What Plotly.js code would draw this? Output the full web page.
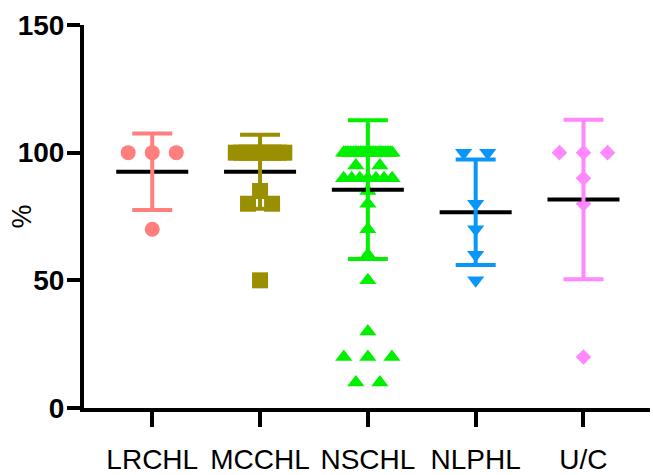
<!DOCTYPE html>
<html>
<head>
<meta charset="utf-8">
<script src="https://cdn.plot.ly/plotly-3.0.1.min.js"></script>
<style>html,body{margin:0;padding:0;background:#fff;}#chart{width:653px;height:475px;}</style>
</head>
<body>
<div id="chart"></div>
<script>
// ---- data ----
const categories = ["LRCHL", "MCCHL", "NSCHL", "NLPHL", "U/C"];
const lrchl = [100, 100, 100, 70];
const mcchl = [100, 100, 100, 100, 100, 100, 100, 100, 100, 100, 85, 80, 80, 50];
const nschl = [100,100,100,100,100,100,100,100,100,100,
               100,100,100,100,100,100,100,100,100,100,
               100,100,100,100,100,100,100,100,100,100,
               95, 95, 90, 90, 90, 90, 90, 90, 90, 85, 80, 70, 60, 50, 30, 20, 20, 20, 10, 10];
const nlphl = [100, 100, 80, 70, 60, 50];
const uc = [100, 100, 100, 90, 80, 20];
const yTicks = [0, 50, 100, 150];

// ---- styling ----
const series = [lrchl, mcchl, nschl, nlphl, uc];
const colors = ["#FF7F7F", "#9A8F00", "#00F000", "#0A96F8", "#FF88FF"];
const symbols = ["circle", "square", "triangle-up", "triangle-down", "diamond"];
const sizes = [15, 16, 15, 15, 12];
const FONT = "Liberation Sans, Arial, Helvetica, sans-serif";

function spread(vals) {
  const groups = {};
  vals.forEach(v => { groups[v] = (groups[v] || 0) + 1; });
  const seen = {};
  return vals.map(v => {
    const n = groups[v];
    const j = seen[v] = (seen[v] === undefined ? 0 : seen[v] + 1);
    const step = n > 1 ? Math.min(0.223, 0.45 / (n - 1)) : 0;
    return (j - (n - 1) / 2) * step;
  });
}
function mean(a) { return a.reduce((s, v) => s + v, 0) / a.length; }
function sd(a) { const m = mean(a); return Math.sqrt(a.reduce((s, v) => s + (v - m) * (v - m), 0) / (a.length - 1)); }

const traces = [];
series.forEach((vals, i) => {
  const off = spread(vals);
  traces.push({
    type: "scatter", mode: "markers",
    x: off.map(o => i + o), y: vals,
    marker: { symbol: symbols[i], size: sizes[i], color: colors[i], line: { width: 0 } },
    hoverinfo: "skip", showlegend: false, cliponaxis: false
  });
});
series.forEach((vals, i) => {
  const m = mean(vals);
  traces.push({
    type: "scatter", mode: "lines",
    x: [i - 0.334, i + 0.334], y: [m, m],
    line: { color: "#000", width: 4 },
    hoverinfo: "skip", showlegend: false, cliponaxis: false
  });
});
series.forEach((vals, i) => {
  traces.push({
    type: "scatter", mode: "markers",
    x: [i], y: [mean(vals)],
    marker: { size: 1, opacity: 0 },
    error_y: { type: "data", array: [sd(vals)], visible: true, color: colors[i], thickness: 4, width: 20 },
    hoverinfo: "skip", showlegend: false, cliponaxis: false
  });
});

const layout = {
  width: 653, height: 475,
  margin: { l: 84, r: 3, t: 25, b: 67, pad: 0 },
  paper_bgcolor: "#fff", plot_bgcolor: "#fff",
  showlegend: false,
  xaxis: {
    range: [-0.633, 4.617],
    tickvals: categories.map((c, i) => i), ticktext: categories,
    showline: true, linecolor: "#000", linewidth: 4,
    ticks: "outside", ticklen: 15, tickwidth: 4, tickcolor: "#000",
    showgrid: false, zeroline: false, fixedrange: true,
    ticklabelstandoff: 8,
    tickfont: { family: FONT, size: 28, color: "#000" }
  },
  yaxis: {
    range: [0, 150], tickvals: yTicks,
    showline: true, linecolor: "#000", linewidth: 4,
    ticks: "outside", ticklen: 13, tickwidth: 4, tickcolor: "#000",
    showgrid: false, zeroline: false, fixedrange: true,
    ticklabelstandoff: -3,
    tickfont: { family: FONT, size: 28, color: "#000", weight: "bold" }
  },
  annotations: [{
    text: "%", xref: "paper", yref: "paper", x: -0.115, y: 0.5,
    xanchor: "center", yanchor: "middle", xshift: 3,
    textangle: -90, showarrow: false,
    font: { family: FONT, size: 27, color: "#000" }
  }]
};

Plotly.newPlot("chart", traces, layout, { staticPlot: true, displayModeBar: false });
</script>
</body>
</html>
